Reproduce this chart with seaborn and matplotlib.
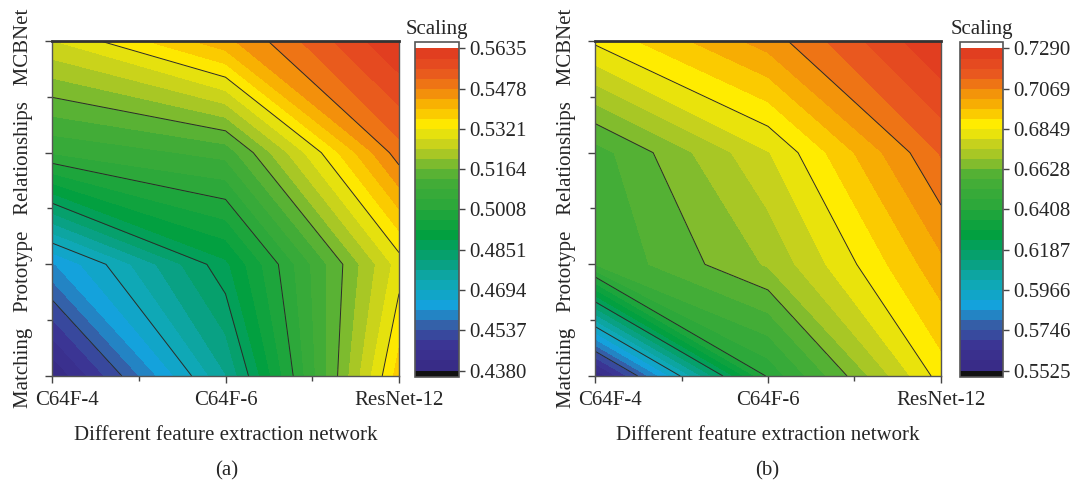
import matplotlib
matplotlib.use("Agg")
import matplotlib.pyplot as plt
from matplotlib.colors import LinearSegmentedColormap
from matplotlib.transforms import ScaledTranslation
import numpy as np
import seaborn as sns

# Axis categories
networks = ["C64F-4", "C64F-6", "ResNet-12"]
methods = ["Matching", "Prototype", "Relationships", "MCBNet"]

# Scaling values, rows = methods (bottom to top), cols = networks
scaling_a = [[0.4380, 0.4770, 0.5380],
             [0.4610, 0.4880, 0.5300],
             [0.5050, 0.5100, 0.5500],
             [0.5280, 0.5427, 0.5635]]
scaling_b = [[0.5525, 0.6420, 0.6875],
             [0.6520, 0.6690, 0.7000],
             [0.6546, 0.6790, 0.7130],
             [0.6860, 0.7040, 0.7290]]

# Colorbar tick labels as printed
ticks_a = ["0.4380", "0.4537", "0.4694", "0.4851", "0.5008",
           "0.5164", "0.5321", "0.5478", "0.5635"]
ticks_b = ["0.5525", "0.5746", "0.5966", "0.6187", "0.6408",
           "0.6628", "0.6849", "0.7069", "0.7290"]

sns.set_style("ticks")
plt.rcParams["font.family"] = ["Liberation Serif", "DejaVu Serif"]
FS = 15

# Origin-like rainbow palette
rainbow = LinearSegmentedColormap.from_list("rainbow_origin", [
    (0.00, "#382a85"), (0.08, "#3b3594"), (0.14, "#3560a8"),
    (0.20, "#14a2dc"), (0.27, "#0fa8b4"), (0.34, "#08a07c"),
    (0.42, "#00a040"), (0.52, "#2ea83a"), (0.60, "#4aae36"),
    (0.66, "#98c22a"), (0.71, "#cfd41a"), (0.76, "#fff000"),
    (0.82, "#f9b800"), (0.88, "#f08010"), (0.93, "#e85420"),
    (1.00, "#e03a20")])
rainbow.set_over("white")
rainbow.set_under("#111111")

fig = plt.figure(figsize=(10.8, 4.83), dpi=100)
W, H = 1080, 483


def box(left, top, right, bottom):
    return [left / W, (H - bottom) / H, (right - left) / W, (bottom - top) / H]


def draw_panel(ax, cax, z, ticks, caption, cap_x):
    z = np.array(z)
    x = np.arange(len(networks))
    y = np.arange(len(methods))
    tick_vals = [float(t) for t in ticks]
    vmin, vmax = tick_vals[0], tick_vals[-1]
    levels = np.linspace(vmin, vmax, 33)
    cf = ax.contourf(x, y, z, levels=levels, cmap=rainbow, extend="both")
    ax.contour(x, y, z, levels=tick_vals[1:-1], colors="#2a2a2a", linewidths=0.7)

    ax.set_xlim(0, 2)
    ax.set_ylim(0, 3)
    ax.set_xticks(x, networks)
    ax.set_xticks([0.5, 1.5], minor=True)
    ax.set_yticks(y, [])
    ax.set_yticks([0.5, 1.5, 2.5], minor=True)
    ax.tick_params(which="major", direction="out", length=5, width=1, labelsize=FS,
                   color="#444444", pad=6)
    ax.tick_params(which="minor", direction="out", length=3.5, width=1, color="#444444")
    # first label sits a bit to the right so it clears the y label
    first = ax.get_xticklabels()[0]
    first.set_transform(first.get_transform() + ScaledTranslation(0.15, 0, fig.dpi_scale_trans))
    for side in ["left", "bottom", "right"]:
        ax.spines[side].set_color("#555555")
        ax.spines[side].set_linewidth(1)
    ax.spines["top"].set_color("#333333")
    ax.spines["top"].set_linewidth(2)
    ax.set_xlabel("Different feature extraction network", fontsize=FS, labelpad=11)
    ax.set_ylabel("   ".join(methods), fontsize=FS, labelpad=3)

    cb = fig.colorbar(cf, cax=cax, ticks=tick_vals, extendfrac=0.02, extendrect=True)
    cb.ax.set_yticklabels(ticks)
    cb.ax.tick_params(direction="out", length=4, width=1, labelsize=FS, color="#444444")
    cb.outline.set_edgecolor("#555555")
    cb.outline.set_linewidth(1.2)
    cb.ax.set_title("Scaling", fontsize=FS, pad=6)

    fig.text(cap_x / W, 1 - 471 / H, caption, ha="center", va="center", fontsize=FS)


ax_a = fig.add_axes(box(52, 41, 399, 376))
cax_a = fig.add_axes(box(415, 42, 459, 377))
draw_panel(ax_a, cax_a, scaling_a, ticks_a, "(a)", 227)

ax_b = fig.add_axes(box(595, 41, 941, 376))
cax_b = fig.add_axes(box(960, 42, 1003, 377))
draw_panel(ax_b, cax_b, scaling_b, ticks_b, "(b)", 767)

fig.savefig("out.png", dpi=100)
